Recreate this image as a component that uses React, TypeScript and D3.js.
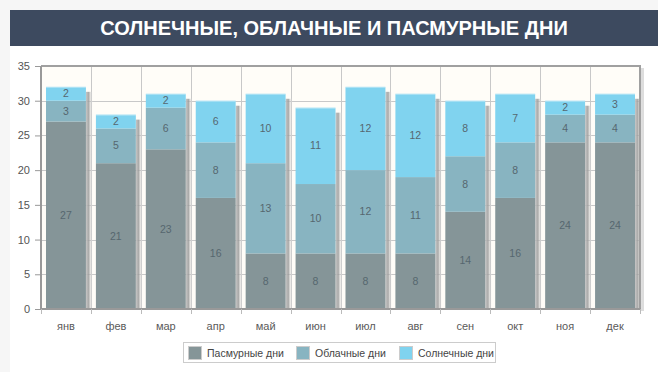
import * as d3 from "d3";
import { useEffect, useRef } from "react";

const months = ["янв", "фев", "мар", "апр", "май", "июн", "июл", "авг", "сен", "окт", "ноя", "дек"];
const overcast = [27, 21, 23, 16, 8, 8, 8, 8, 14, 16, 24, 24];
const cloudy = [3, 5, 6, 8, 13, 10, 12, 11, 8, 8, 4, 4];
const sunny = [2, 2, 2, 6, 10, 11, 12, 12, 8, 7, 2, 3];
const seriesNames = ["Пасмурные дни", "Облачные дни", "Солнечные дни"];
const yTicks = [0, 5, 10, 15, 20, 25, 30, 35];
const title = "СОЛНЕЧНЫЕ, ОБЛАЧНЫЕ И ПАСМУРНЫЕ ДНИ";

const W = 658;
const H = 372;
const FONT = "'Liberation Sans', Arial, sans-serif";

const App = () => {
  const ref = useRef<SVGSVGElement>(null);

  useEffect(() => {
    document.body.style.margin = "0";
    const svg = d3.select(ref.current);
    svg.selectAll("*").remove();

    const colors = d3
      .scaleOrdinal<string>()
      .domain(seriesNames)
      .range(["#859598", "#88b4c1", "#80d3ef"]);

    const plot = { left: 41, right: 640, top: 66, bottom: 309 };

    const x = d3
      .scaleBand<string>()
      .domain(months)
      .range([plot.left, plot.right])
      .paddingInner(0.2)
      .paddingOuter(0.1);
    const grid = d3.scaleLinear().domain([0, 12]).range([plot.left, plot.right]);
    const y = d3.scaleLinear().domain([0, 35]).range([plot.bottom, plot.top]);

    const defs = svg.append("defs");
    const grad = defs.append("linearGradient").attr("id", "shadowGrad").attr("x1", 0).attr("x2", 1).attr("y1", 0).attr("y2", 0);
    grad.append("stop").attr("offset", "0%").attr("stop-color", "#c4c4c4").attr("stop-opacity", 0.95);
    grad.append("stop").attr("offset", "40%").attr("stop-color", "#9c9c9c").attr("stop-opacity", 0.85);
    grad.append("stop").attr("offset", "100%").attr("stop-color", "#fff").attr("stop-opacity", 0);

    // page backgrounds
    svg.append("rect").attr("width", W).attr("height", H).attr("fill", "#f6f6f6");
    svg.append("rect").attr("x", 10).attr("y", 10).attr("width", W - 10).attr("height", H - 10).attr("fill", "#fff");

    // title bar
    svg.append("rect").attr("x", 10).attr("y", 10).attr("width", W - 10).attr("height", 36).attr("fill", "#3d4a5f");
    svg
      .append("text")
      .attr("x", 334)
      .attr("y", 35)
      .attr("text-anchor", "middle")
      .attr("fill", "#fff")
      .attr("font-family", FONT)
      .attr("font-weight", "bold")
      .attr("font-size", 20)
      .text(title);

    // plot area
    svg
      .append("rect")
      .attr("x", plot.left + 1)
      .attr("y", plot.top)
      .attr("width", plot.right - plot.left)
      .attr("height", plot.bottom - plot.top)
      .attr("fill", "#fffdf8");
    // right frame shadow
    svg
      .append("rect")
      .attr("x", plot.right + 1)
      .attr("y", plot.top + 2)
      .attr("width", 3)
      .attr("height", plot.bottom - plot.top)
      .attr("fill", "#ddd");

    const gridG = svg.append("g");
    gridG
      .selectAll("line.h")
      .data(yTicks.slice(1, -1))
      .enter()
      .append("line")
      .attr("x1", plot.left)
      .attr("x2", plot.right)
      .attr("y1", (d) => Math.round(y(d)) + 0.5)
      .attr("y2", (d) => Math.round(y(d)) + 0.5)
      .attr("stroke", "#c8c8c8");
    gridG
      .selectAll("line.v")
      .data(d3.range(1, 12))
      .enter()
      .append("line")
      .attr("x1", (d) => Math.round(grid(d)) + 0.5)
      .attr("x2", (d) => Math.round(grid(d)) + 0.5)
      .attr("y1", plot.top)
      .attr("y2", plot.bottom)
      .attr("stroke", "#c8c8c8");

    // stacked data
    const table = months.map((m, i) => ({
      month: m,
      [seriesNames[0]]: overcast[i],
      [seriesNames[1]]: cloudy[i],
      [seriesNames[2]]: sunny[i],
    }));
    const stacked = d3.stack<any>().keys(seriesNames)(table);
    const totals = months.map((_, i) => overcast[i] + cloudy[i] + sunny[i]);

    // shadows
    svg
      .append("g")
      .selectAll("rect")
      .data(months)
      .enter()
      .append("rect")
      .attr("x", (d) => (x(d) as number) + x.bandwidth())
      .attr("y", (d, i) => y(totals[i]) + 5)
      .attr("width", 7)
      .attr("height", (d, i) => plot.bottom - y(totals[i]) - 5)
      .attr("fill", "url(#shadowGrad)");

    const layers = svg
      .append("g")
      .selectAll("g")
      .data(stacked)
      .enter()
      .append("g")
      .attr("fill", (d) => colors(d.key));

    layers
      .selectAll("rect")
      .data((d) => d)
      .enter()
      .append("rect")
      .attr("x", (d: any) => x(d.data.month) as number)
      .attr("y", (d) => y(d[1]))
      .attr("width", x.bandwidth())
      .attr("height", (d) => y(d[0]) - y(d[1]));

    // top highlight
    svg
      .append("g")
      .selectAll("line")
      .data(months)
      .enter()
      .append("line")
      .attr("x1", (d) => x(d) as number)
      .attr("x2", (d) => (x(d) as number) + x.bandwidth())
      .attr("y1", (d, i) => y(totals[i]) + 0.5)
      .attr("y2", (d, i) => y(totals[i]) + 0.5)
      .attr("stroke", "#fff")
      .attr("stroke-opacity", 0.4);

    // value labels
    layers
      .selectAll("text")
      .data((d) => d)
      .enter()
      .append("text")
      .attr("x", (d: any) => (x(d.data.month) as number) + x.bandwidth() / 2)
      .attr("y", (d) => (y(d[0]) + y(d[1])) / 2 + 3.5)
      .attr("text-anchor", "middle")
      .attr("fill", "#56676f")
      .attr("font-family", FONT)
      .attr("font-size", 10.5)
      .text((d) => d[1] - d[0]);

    // frame top/right
    svg
      .append("path")
      .attr("d", `M${plot.left},${plot.top}H${plot.right}V${plot.bottom}`)
      .attr("fill", "none")
      .attr("stroke", "#a0a0a0")
      .attr("stroke-width", 2);

    // axes
    const yAxis = svg
      .append("g")
      .attr("transform", `translate(${plot.left},0)`)
      .call(d3.axisLeft(y).tickValues(yTicks).tickSize(6).tickPadding(5));
    yAxis.select(".domain").attr("stroke", "#999").attr("stroke-width", 2).attr("d", `M0,${plot.top}V${plot.bottom + 1}`);
    yAxis.selectAll(".tick line").attr("stroke", "#999");
    yAxis.selectAll("text").attr("fill", "#555").attr("font-family", FONT).attr("font-size", 11);

    const xAxis = svg
      .append("g")
      .attr("transform", `translate(0,${plot.bottom})`)
      .call(d3.axisBottom(x).tickSize(0).tickPadding(13));
    xAxis.select(".domain").attr("stroke", "#999").attr("stroke-width", 2).attr("d", `M${plot.left},0H${plot.right + 1}`);
    xAxis.selectAll("text").attr("fill", "#5a5a5a").attr("font-family", FONT).attr("font-size", 11);
    xAxis
      .selectAll("line.sep")
      .data(d3.range(0, 13))
      .enter()
      .append("line")
      .attr("class", "sep")
      .attr("x1", (d) => Math.round(grid(d)) + 0.5)
      .attr("x2", (d) => Math.round(grid(d)) + 0.5)
      .attr("y1", 0)
      .attr("y2", 5)
      .attr("stroke", "#bbb");

    // legend
    const legend = svg.append("g");
    legend
      .append("rect")
      .attr("x", 183.5)
      .attr("y", 342.5)
      .attr("width", 312)
      .attr("height", 20)
      .attr("fill", "#fff")
      .attr("stroke", "#ccc");
    const itemX = [188, 296, 399];
    const items = legend
      .selectAll("g.item")
      .data(seriesNames)
      .enter()
      .append("g")
      .attr("transform", (d, i) => `translate(${itemX[i]},346)`);
    items
      .append("rect")
      .attr("x", 0.5)
      .attr("y", 0.5)
      .attr("width", 13)
      .attr("height", 13)
      .attr("fill", (d) => colors(d))
      .attr("stroke", "#ccc");
    items
      .append("text")
      .attr("x", 19)
      .attr("y", 11)
      .attr("fill", "#444")
      .attr("font-family", FONT)
      .attr("font-size", 10.5)
      .text((d) => d);
  }, []);

  return <svg ref={ref} width={W} height={H} style={{ display: "block" }} />;
};

export default App;
